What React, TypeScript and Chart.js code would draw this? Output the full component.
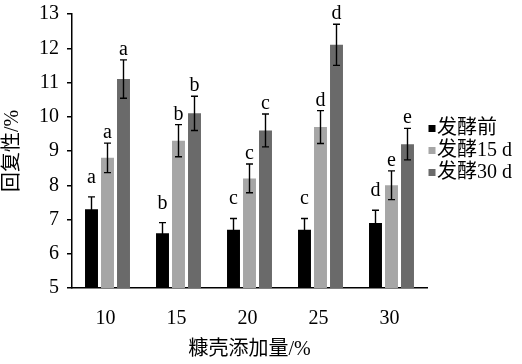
import React, { useEffect, useRef } from "react";
import { Chart, registerables } from "chart.js";

Chart.register(...registerables);

const categories = ["10", "15", "20", "25", "30"];
const seriesNames = ["发酵前", "发酵15 d", "发酵30 d"];
const before = [7.3, 6.6, 6.7, 6.7, 6.9];
const day15 = [8.8, 9.3, 8.2, 9.7, 8.0];
const day30 = [11.1, 10.1, 9.6, 12.1, 9.2];
const beforeErr = [0.36, 0.31, 0.33, 0.33, 0.37];
const day15Err = [0.43, 0.47, 0.42, 0.48, 0.42];
const day30Err = [0.56, 0.5, 0.48, 0.6, 0.46];
const beforeLetters = ["a", "b", "c", "c", "d"];
const day15Letters = ["a", "b", "c", "d", "e"];
const day30Letters = ["a", "b", "c", "d", "e"];
const yTicks = [5, 6, 7, 8, 9, 10, 11, 12, 13];

const FONT = '"Liberation Serif", "Noto Sans CJK SC", serif';
const colors = ["#000000", "#a6a6a6", "#6a6a6a"];
const letterGap = [14, 5, 5];

const errors = [beforeErr, day15Err, day30Err];
const letters = [beforeLetters, day15Letters, day30Letters];

const annotatePlugin = {
  id: "annotate",
  afterDatasetsDraw(chart: any) {
    const ctx = chart.ctx;
    const y = chart.scales.y;
    ctx.save();
    chart.data.datasets.forEach((ds: any, di: number) => {
      const meta = chart.getDatasetMeta(di);
      meta.data.forEach((bar: any, i: number) => {
        const v = ds.data[i];
        const e = errors[di][i];
        const x = bar.x;
        const yTop = y.getPixelForValue(v + e);
        const yBot = y.getPixelForValue(v - e);
        ctx.strokeStyle = "#000";
        ctx.lineWidth = 1.4;
        ctx.beginPath();
        ctx.moveTo(x, yTop);
        ctx.lineTo(x, yBot);
        ctx.moveTo(x - 3.5, yTop);
        ctx.lineTo(x + 3.5, yTop);
        ctx.moveTo(x - 3.5, yBot);
        ctx.lineTo(x + 3.5, yBot);
        ctx.stroke();
        ctx.fillStyle = "#000";
        ctx.font = "20px " + FONT;
        ctx.textAlign = "center";
        ctx.textBaseline = "alphabetic";
        ctx.fillText(letters[di][i], x, yTop - letterGap[di]);
      });
    });
    ctx.restore();
  },
  afterDraw(chart: any) {
    const ctx = chart.ctx;
    const area = chart.chartArea;
    const mid = (area.top + area.bottom) / 2;
    ctx.save();
    ctx.font = "20px " + FONT;
    ctx.textAlign = "left";
    ctx.textBaseline = "middle";
    chart.data.datasets.forEach((ds: any, di: number) => {
      const cy = mid + (di - 1) * 22;
      ctx.fillStyle = ds.backgroundColor;
      ctx.fillRect(area.right + 1.5, cy - 4, 7, 7);
      ctx.fillStyle = "#000";
      ctx.fillText(ds.label, area.right + 10, cy);
    });
    ctx.restore();
  },
};

export default function App() {
  const ref = useRef<HTMLCanvasElement>(null);
  useEffect(() => {
    document.body.style.margin = "0";
    if (!ref.current) return;
    const chart = new Chart(ref.current, {
      type: "bar",
      data: {
        labels: categories,
        datasets: [before, day15, day30].map((d, i) => ({
          label: seriesNames[i],
          data: d,
          backgroundColor: colors[i],
          borderWidth: 0,
          categoryPercentage: 0.676,
          barPercentage: 0.81,
        })),
      },
      options: {
        responsive: false,
        animation: false,
        layout: { padding: { top: 14, right: 95, left: 0, bottom: 0 } },
        plugins: { legend: { display: false }, tooltip: { enabled: false } },
        scales: {
          x: {
            grid: { display: false },
            border: { color: "#000", width: 1.5 },
            ticks: { color: "#000", font: { family: FONT, size: 20 }, padding: 11, labelOffset: -2 },
            title: {
              display: true,
              text: "糠壳添加量/%",
              color: "#000",
              font: { family: FONT, size: 20 },
              padding: { top: 4, bottom: 2 },
            },
            afterFit: (s: any) => {
              s.height = 76;
              s.paddingLeft = 0;
              s.paddingRight = 0;
            },
          },
          y: {
            min: 5,
            max: 13,
            afterBuildTicks: (s: any) => {
              s.ticks = yTicks.map((v) => ({ value: v }));
            },
            grid: { drawOnChartArea: false, drawTicks: true, tickLength: 5, color: "#000", lineWidth: 1.5 },
            border: { color: "#000", width: 1.5 },
            ticks: { color: "#000", font: { family: FONT, size: 20 }, padding: 8 },
            title: {
              display: true,
              text: "回复性/%",
              color: "#000",
              font: { family: FONT, size: 20 },
              padding: { top: 1, bottom: 0 },
            },
            afterFit: (s: any) => {
              s.width = 72;
              s.paddingTop = 0;
              s.paddingBottom = 0;
            },
          },
        },
      },
      plugins: [annotatePlugin],
    });
    return () => chart.destroy();
  }, []);
  return (
    <div style={{ width: 522, height: 364 }}>
      <canvas ref={ref} width={522} height={364} />
    </div>
  );
}
